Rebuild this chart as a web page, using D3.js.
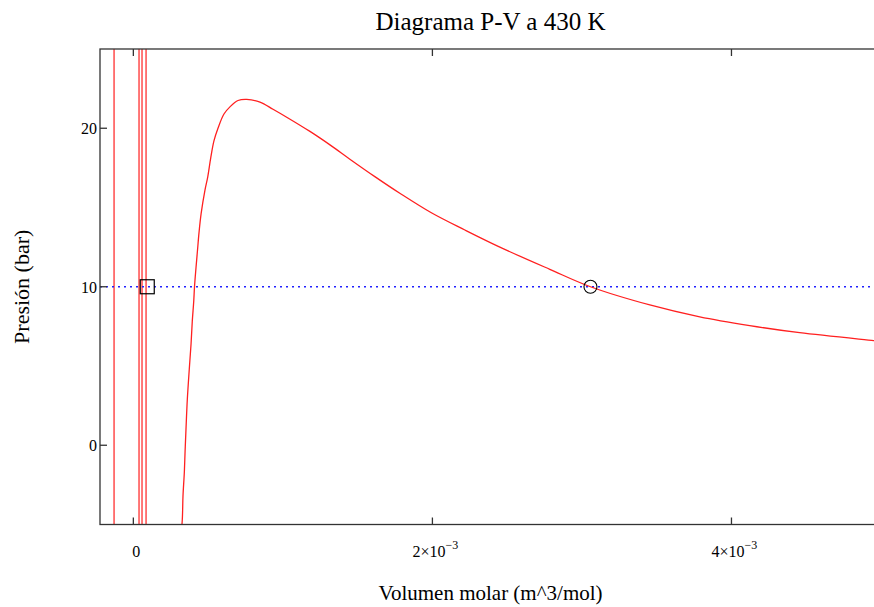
<!DOCTYPE html>
<html>
<head>
<meta charset="utf-8">
<script src="https://cdn.jsdelivr.net/npm/d3@7"></script>
<style>
  html, body { margin: 0; padding: 0; background: #fff; }
  svg { display: block; }
  text { font-family: "Liberation Serif", "Times New Roman", serif; fill: #000; }
</style>
</head>
<body>
<svg id="chart" width="874" height="607"></svg>
<script>
// ---- data ----
const chartTitle = "Diagrama P-V a 430 K";
const xTitle = "Volumen molar (m^3/mol)";
const yTitle = "Presión (bar)";

// molar volume, m^3/mol
const curveV = [0.300e-3, 0.326e-3, 0.332e-3, 0.341e-3, 0.346e-3, 0.352e-3, 0.361e-3, 0.374e-3, 0.386e-3,
  0.394e-3, 0.404e-3, 0.409e-3, 0.419e-3, 0.429e-3, 0.439e-3, 0.453e-3, 0.479e-3, 0.497e-3,
  0.517e-3, 0.539e-3, 0.566e-3, 0.606e-3, 0.646e-3, 0.700e-3, 0.758e-3, 0.847e-3, 0.934e-3,
  1.034e-3, 1.181e-3, 1.315e-3, 1.448e-3, 1.615e-3, 1.782e-3, 1.996e-3, 2.217e-3, 2.451e-3,
  2.785e-3, 3.057e-3, 3.454e-3, 3.788e-3, 4.122e-3, 4.456e-3, 4.951e-3, 5.000e-3];
// pressure, bar
const curveP = [-7.0, -4.9, -3.2, -1.7, -0.4, 1.0, 2.9, 4.8, 6.4,
  7.8, 9.1, 10.0, 11.2, 12.3, 13.4, 14.6, 16.1, 16.9,
  18.1, 19.2, 20.0, 20.9, 21.35, 21.75, 21.82, 21.65, 21.2,
  20.65, 19.8, 18.95, 18.05, 16.95, 15.9, 14.65, 13.58, 12.5,
  11.1, 10.0, 8.85, 8.1, 7.55, 7.1, 6.6, 6.55];

// vertical branches of the curve near the poles (molar volume)
const poleV = [-0.129e-3, 0.038e-3, 0.058e-3, 0.085e-3];

const isobarP = 10;               // dotted horizontal line
const liquidV = 0.093e-3;         // square marker
const vaporV = 3.057e-3;          // circle marker

const xTicks = [0, 2e-3, 4e-3];
const xTickMant = ["0", "2×10", "4×10"];
const xTickExp = ["", "−3", "−3"];
const yTicks = [0, 10, 20];
const yTickLabels = ["0", "10", "20"];

const xDomain = [-0.000223, 0.005];
const yDomain = [-5, 25];

// ---- drawing ----
const svg = d3.select("#chart");
const L = 100, R = 881, T = 49, B = 524.5;
const x = d3.scaleLinear().domain(xDomain).range([L, R]);
const y = d3.scaleLinear().domain(yDomain).range([B, T]);

svg.append("defs").append("clipPath").attr("id", "clip")
  .append("rect").attr("x", L).attr("y", T).attr("width", R - L).attr("height", B - T);

const plot = svg.append("g").attr("clip-path", "url(#clip)");

// pole lines
plot.selectAll("line.pole").data(poleV).join("line")
  .attr("class", "pole")
  .attr("x1", d => x(d)).attr("x2", d => x(d))
  .attr("y1", y(yDomain[0]) + 5).attr("y2", y(yDomain[1]) - 5)
  .attr("stroke", "#ff3030").attr("stroke-width", 1.3);

// isobar
plot.append("line")
  .attr("x1", L).attr("x2", R)
  .attr("y1", y(isobarP)).attr("y2", y(isobarP))
  .attr("stroke", "#2020ff").attr("stroke-width", 1.5)
  .attr("stroke-dasharray", "2,4");

// curve
const pts = curveV.map((v, i) => [v, curveP[i]]);
plot.append("path").datum(pts)
  .attr("fill", "none").attr("stroke", "#ff2020").attr("stroke-width", 1.3)
  .attr("d", d3.line().x(d => x(d[0])).y(d => y(d[1])).curve(d3.curveCatmullRom.alpha(0.5)));

// markers
plot.append("rect")
  .attr("x", x(liquidV) - 7).attr("y", y(isobarP) - 7)
  .attr("width", 14).attr("height", 14)
  .attr("fill", "none").attr("stroke", "#000").attr("stroke-width", 1.2);
plot.append("circle")
  .attr("cx", x(vaporV)).attr("cy", y(isobarP)).attr("r", 6.5)
  .attr("fill", "none").attr("stroke", "#000").attr("stroke-width", 1.1);

// frame
const frame = svg.append("g").attr("stroke", "#333").attr("stroke-width", 1.3).attr("fill", "none");
frame.append("rect").attr("x", L).attr("y", T).attr("width", R - L).attr("height", B - T);

// ticks
xTicks.forEach(t => {
  frame.append("line").attr("x1", x(t)).attr("x2", x(t)).attr("y1", B).attr("y2", B - 7);
  frame.append("line").attr("x1", x(t)).attr("x2", x(t)).attr("y1", T).attr("y2", T + 7);
});
yTicks.forEach(t => {
  frame.append("line").attr("x1", L).attr("x2", L + 7).attr("y1", y(t)).attr("y2", y(t));
  frame.append("line").attr("x1", R).attr("x2", R - 7).attr("y1", y(t)).attr("y2", y(t));
});

// x tick labels
xTicks.forEach((t, i) => {
  const txt = svg.append("text")
    .attr("x", x(t) + 3).attr("y", 557)
    .attr("text-anchor", "middle").attr("font-size", 16);
  txt.append("tspan").text(xTickMant[i]);
  if (xTickExp[i]) {
    txt.append("tspan").attr("dy", -8).attr("font-size", 12).text(xTickExp[i]);
  }
});

// y tick labels
yTicks.forEach((t, i) => {
  svg.append("text")
    .attr("x", 97).attr("y", y(t) + 6)
    .attr("text-anchor", "end").attr("font-size", 16)
    .text(yTickLabels[i]);
});

// titles
svg.append("text").attr("x", (L + R) / 2).attr("y", 30)
  .attr("text-anchor", "middle").attr("font-size", 25).text(chartTitle);
svg.append("text").attr("x", (L + R) / 2).attr("y", 600)
  .attr("text-anchor", "middle").attr("font-size", 21).text(xTitle);
svg.append("text")
  .attr("transform", `translate(29,${(T + B) / 2}) rotate(-90)`)
  .attr("text-anchor", "middle").attr("font-size", 22).text(yTitle);
</script>
</body>
</html>
